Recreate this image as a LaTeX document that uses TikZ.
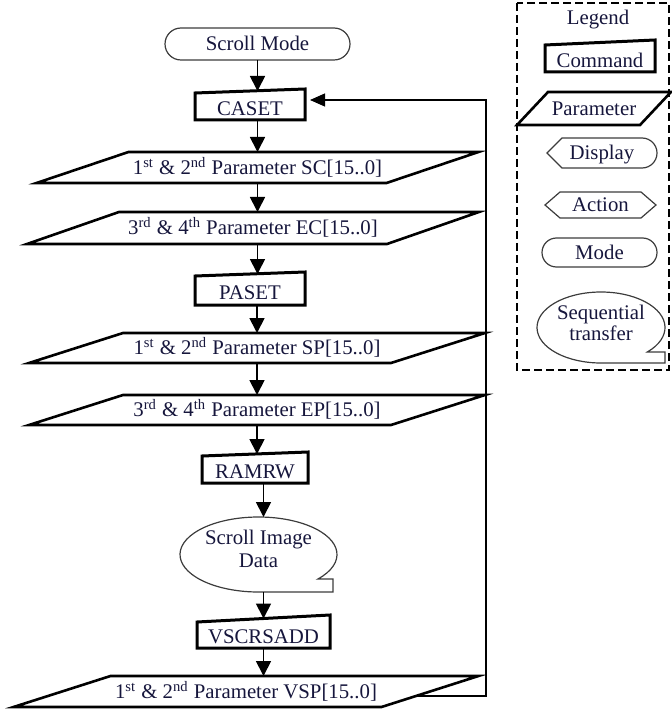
\documentclass[tikz,border=0pt]{standalone}
\usepackage{fontspec}
\setmainfont{Liberation Serif}
\usetikzlibrary{calc,arrows.meta,shapes.geometric}
\definecolor{ink}{RGB}{22,22,60}
\definecolor{rim}{RGB}{60,60,60}
% command box: rectangle whose top edge rises towards the right
\newcommand\cmdoutline[2]{\draw[cmdline] (#1.south west) -- (#1.south east) -- ($(#1.north east)+(0,-#2)$) -- ($(#1.north west)+(0,#2)$) -- cycle;}
% parameter box: parallelogram leaning to the right
\newcommand\paroutline[2]{\draw[parline] ($(#1.north west)+(#2,0)$) -- ($(#1.north east)+(#2,0)$) -- ($(#1.south east)+(-#2,0)$) -- ($(#1.south west)+(-#2,0)$) -- cycle;}
% sequential transfer: ellipse with a square tab at the lower right
\newcommand\seqoutline[6]{\draw[thinline] ($(#1.center)+(#2:#3 and #4)$) arc[start angle=#2, end angle=-270, x radius=#3, y radius=#4] -- ++(#5,0) -- ++(0,-#6) -- cycle;}
\begin{document}
\begin{tikzpicture}[x=0.5pt, y=-0.5pt, line join=miter,
  every node/.style={font=\fontsize{10.4}{11.5}\selectfont, text=ink, inner sep=0pt, outer sep=0pt},
  oneline/.style={text height=6.8pt, text depth=0pt},
  cmdbox/.style={rectangle, text height=9.8pt, text depth=0pt},
  cmdline/.style={line width=1.5pt, draw=black},
  parbox/.style={rectangle, oneline},
  parline/.style={line width=1.3pt, draw=black},
  thinline/.style={line width=0.6pt, draw=rim},
  termbox/.style={rectangle, rounded corners=#1, draw=rim, line width=0.6pt, oneline},
  seqbox/.style={ellipse, align=center},
  arrowline/.style={-{Triangle[length=7.5pt,width=7.5pt]}, line width=0.9pt, draw=black},
  loopline/.style={-{Triangle[length=7.5pt,width=6.5pt]}, line width=0.6pt, draw=black}]
\useasboundingbox (0,0) rectangle (671,711);

% ---- flow chart ----
\node[termbox=8pt, minimum width=92.5pt, minimum height=16pt] (mode) at (257.5,44) {Scroll Mode};
\node[cmdbox, minimum width=55pt, minimum height=14.5pt] (caset) at (250,105.5) {CASET};
\node[parbox, minimum width=175pt, minimum height=15.5pt] (sc) at (257.5,167.5) {1\textsuperscript{st} \& 2\textsuperscript{nd} Parameter SC[15..0]};
\node[parbox, minimum width=180pt, minimum height=16pt] (ec) at (253,228) {3\textsuperscript{rd} \& 4\textsuperscript{th} Parameter EC[15..0]};
\node[cmdbox, minimum width=55pt, minimum height=15.5pt] (paset) at (250,289.5) {PASET};
\node[parbox, minimum width=181pt, minimum height=15pt] (sp) at (257,348) {1\textsuperscript{st} \& 2\textsuperscript{nd} Parameter SP[15..0]};
\node[parbox, minimum width=181pt, minimum height=15pt] (ep) at (257,410) {3\textsuperscript{rd} \& 4\textsuperscript{th} Parameter EP[15..0]};
\node[cmdbox, minimum width=53pt, minimum height=14.5pt] (ramrw) at (255,468.5) {RAMRW};
\node[seqbox, text depth=6pt, minimum width=78.5pt, minimum height=37.5pt] (sid) at (258.5,554.5) {Scroll Image\\Data};
\node[cmdbox, minimum width=66.5pt, minimum height=14.75pt] (vscr) at (263.5,633.25) {VSCRSADD};
\node[parbox, minimum width=184pt, minimum height=15.5pt] (vsp) at (246,691.5) {1\textsuperscript{st} \& 2\textsuperscript{nd} Parameter VSP[15..0]};

\cmdoutline{caset}{2}
\paroutline{sc}{46}
\paroutline{ec}{46}
\cmdoutline{paset}{2}
\paroutline{sp}{47}
\paroutline{ep}{47}
\cmdoutline{ramrw}{2}
\seqoutline{sid}{40.8}{78.5}{37.5}{74.5}{13}
\cmdoutline{vscr}{3.5}
\paroutline{vsp}{48.5}

\draw[arrowline] (mode.south) -- (mode.south |- caset.north);
\draw[arrowline] (sc.north |- caset.south) -- (sc.north);
\draw[arrowline] (sc.south) -- (sc.south |- ec.north);
\draw[arrowline] (sc.south |- ec.south) -- (sc.south |- paset.north);
\draw[arrowline] (sp.north |- paset.south) -- (sp.north);
\draw[arrowline] (sp.south) -- (sp.south |- ep.north);
\draw[arrowline] (ep.south) -- (ep.south |- ramrw.north);
\draw[arrowline] (vscr.north |- ramrw.south) -- (vscr.north |- sid.north);
\draw[arrowline] (vscr.north |- sid.south) -- (vscr.north);
\draw[arrowline] (vscr.south) -- (vscr.south |- vsp.north);

% return path from the last parameter back to CASET
\coordinate (loopin) at ($(caset.east)+(5,-5.5)$);
\coordinate (loopout) at ($(vsp.east)+(-14,4.5)$);
\draw[loopline] (loopout) -| ($(loopin)+(176,0)$) -- (loopin);

% ---- legend ----
\draw[line width=0.6pt, dash pattern=on 4pt off 2pt] (517,3) rectangle (669,370);
\node[oneline] (legtitle) at (598,18) {Legend};
\node[cmdbox, minimum width=55pt, minimum height=14.75pt] (lcmd) at (600,57.25) {Command};
\cmdoutline{lcmd}{2.5}
\node[parbox, minimum width=61.5pt, minimum height=16.5pt] (lpar) at (594,108.5) {Parameter};
\paroutline{lpar}{15.5}
\node[oneline, minimum width=55pt, minimum height=15pt] (ldisp) at (602,153) {Display};
\draw[thinline] (ldisp.west) -- ($(ldisp.north west)+(15,0)$) -- ($(ldisp.north east)+(-15,0)$)
  arc[start angle=-90, end angle=90, radius=15] -- ($(ldisp.south west)+(15,0)$) -- cycle;
\node[oneline, minimum width=55.5pt, minimum height=13pt] (lact) at (600.5,205) {Action};
\draw[thinline] (lact.west) -- ($(lact.north west)+(15,0)$) -- ($(lact.north east)+(-15,0)$) -- (lact.east)
  -- ($(lact.south east)+(-15,0)$) -- ($(lact.south west)+(15,0)$) -- cycle;
\node[termbox=7.25pt, minimum width=57.5pt, minimum height=14.5pt] (lmode) at (599.5,252.5) {Mode};
\node[seqbox, font=\fontsize{10.4}{10.5}\selectfont, text depth=4.4pt, minimum width=64pt, minimum height=35.5pt] (lseq) at (601,327.5) {Sequential\\transfer};
\seqoutline{lseq}{43.6}{64}{35.5}{64}{11}
\end{tikzpicture}
\end{document}
